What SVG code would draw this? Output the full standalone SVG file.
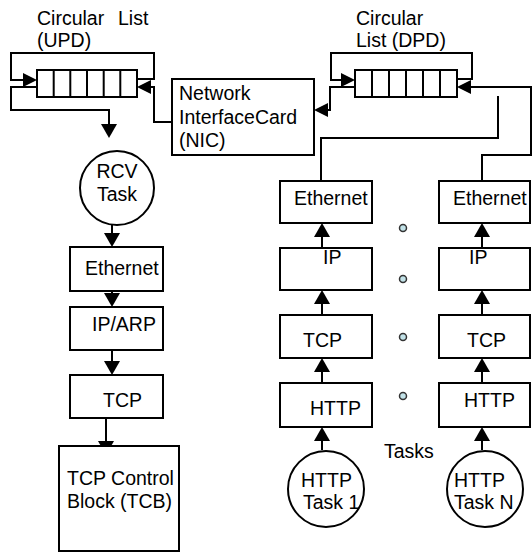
<svg xmlns="http://www.w3.org/2000/svg" width="532" height="554" viewBox="0 0 532 554">
<defs>
<style>
.b{fill:#fff;stroke:#000;stroke-width:2}
.c{fill:none;stroke:#000;stroke-width:2}
.t{font-family:"Liberation Sans",Arial,sans-serif;font-size:19.5px;fill:#000}
.d{fill:#c2e2e8;stroke:#333;stroke-width:1.5}
</style>
</defs>
<rect width="532" height="554" fill="#fff"/>
<g id="connectors" class="c">
<path d="M137,79 H154 V53 H11 V80 H30"/>
<path d="M172,122 H154 V87 H144"/>
<path d="M37,87 H11 V110 H109 V125"/>
<path d="M112,224 V235"/>
<path d="M112,291 V295"/>
<path d="M112,350 V362"/>
<path d="M106,418 V442"/>
<path d="M457,79 H472 V53 H331 V80 H348"/>
<path d="M355,87 H330 V110 H326"/>
<path d="M482,181 V155 H531 V87 H470"/>
<path d="M321,181 V138 H498 V96"/>
<path d="M322,248 V236 M482,248 V236 M322,315 V303 M482,315 V303 M322,383 V371 M482,383 V371 M322,450 V440 M482,450 V440"/>
</g>
<g id="arrowheads" fill="#000">
<polygon points="37,80 23,73 23,87"/>
<polygon points="137,87 151,80 151,94"/>
<polygon points="109,138 101,124 117,124"/>
<polygon points="112,247 104,233 120,233"/>
<polygon points="112,307 104,293 120,293"/>
<polygon points="112,375 104,361 120,361"/>
<polygon points="106,455 98,441 114,441"/>
<polygon points="355,80 341,73 341,87"/>
<polygon points="314,110 328,103 328,117"/>
<polygon points="457,87 471,80 471,94"/>
<polygon points="322,223 314,237 330,237"/>
<polygon points="482,223 474,237 490,237"/>
<polygon points="322,290 314,304 330,304"/>
<polygon points="482,290 474,304 490,304"/>
<polygon points="322,358 314,372 330,372"/>
<polygon points="482,358 474,372 490,372"/>
<polygon points="322,427 314,441 330,441"/>
<polygon points="482,427 474,441 490,441"/>
</g>
<g id="label-upd">
<text class="t" x="37" y="25">Circular</text>
<text class="t" x="118" y="25">List</text>
<text class="t" x="37" y="47">(UPD)</text>
</g>
<g id="queue-upd">
<rect class="b" x="37" y="70" width="100" height="27"/>
<path class="c" d="M53.7,70 V97 M70.3,70 V97 M87,70 V97 M103.7,70 V97 M120.3,70 V97"/>
</g>
<g id="label-dpd">
<text class="t" x="356" y="25">Circular</text>
<text class="t" x="356" y="47">List (DPD)</text>
</g>
<g id="queue-dpd">
<rect class="b" x="355" y="70" width="102" height="27"/>
<path class="c" d="M372,70 V97 M389,70 V97 M406,70 V97 M423,70 V97 M440,70 V97"/>
</g>
<g id="nic">
<rect class="b" x="172" y="79" width="142" height="76"/>
<text class="t" x="179" y="100">Network</text>
<text class="t" x="179" y="124">InterfaceCard</text>
<text class="t" x="179" y="147">(NIC)</text>
</g>
<g id="rcv-task">
<circle class="b" cx="117" cy="188" r="37"/>
<text class="t" x="117" y="178" text-anchor="middle">RCV</text>
<text class="t" x="117" y="201" text-anchor="middle">Task</text>
</g>
<g id="ethernet-rx">
<rect class="b" x="70" y="247" width="93" height="44"/>
<text class="t" x="85" y="275">Ethernet</text>
</g>
<g id="iparp">
<rect class="b" x="70" y="307" width="93" height="43"/>
<text class="t" x="92" y="331">IP/ARP</text>
</g>
<g id="tcp-rx">
<rect class="b" x="70" y="375" width="93" height="43"/>
<text class="t" x="103" y="407">TCP</text>
</g>
<g id="tcb">
<rect class="b" x="59" y="446" width="120" height="105"/>
<text class="t" x="67" y="485">TCP Control</text>
<text class="t" x="67" y="508">Block (TCB)</text>
</g>
<g id="ethernet-1">
<rect class="b" x="280" y="181" width="92" height="42"/>
<text class="t" x="294" y="205">Ethernet</text>
</g>
<g id="ip-1">
<rect class="b" x="280" y="248" width="92" height="42"/>
<text class="t" x="323" y="264">IP</text>
</g>
<g id="tcp-1">
<rect class="b" x="280" y="315" width="92" height="43"/>
<text class="t" x="303" y="347">TCP</text>
</g>
<g id="http-1">
<rect class="b" x="280" y="383" width="92" height="44"/>
<text class="t" x="310" y="415">HTTP</text>
</g>
<g id="http-task-1">
<circle class="b" cx="326" cy="489" r="38"/>
<text class="t" x="301" y="487">HTTP</text>
<text class="t" x="303" y="509">Task 1</text>
</g>
<g id="ethernet-n">
<rect class="b" x="439" y="181" width="91" height="42"/>
<text class="t" x="453" y="205">Ethernet</text>
</g>
<g id="ip-n">
<rect class="b" x="439" y="248" width="91" height="42"/>
<text class="t" x="469" y="264">IP</text>
</g>
<g id="tcp-n">
<rect class="b" x="439" y="315" width="91" height="43"/>
<text class="t" x="467" y="347">TCP</text>
</g>
<g id="http-n">
<rect class="b" x="439" y="383" width="91" height="44"/>
<text class="t" x="464" y="407">HTTP</text>
</g>
<g id="http-task-n">
<circle class="b" cx="485" cy="489" r="38"/>
<text class="t" x="454" y="487">HTTP</text>
<text class="t" x="454" y="509">Task N</text>
</g>
<g id="ellipsis">
<circle class="d" cx="403" cy="228" r="3.5"/>
<circle class="d" cx="403" cy="279" r="3.5"/>
<circle class="d" cx="403" cy="337" r="3.5"/>
<circle class="d" cx="403" cy="396" r="3.5"/>
<text class="t" x="384" y="458">Tasks</text>
</g>
</svg>
